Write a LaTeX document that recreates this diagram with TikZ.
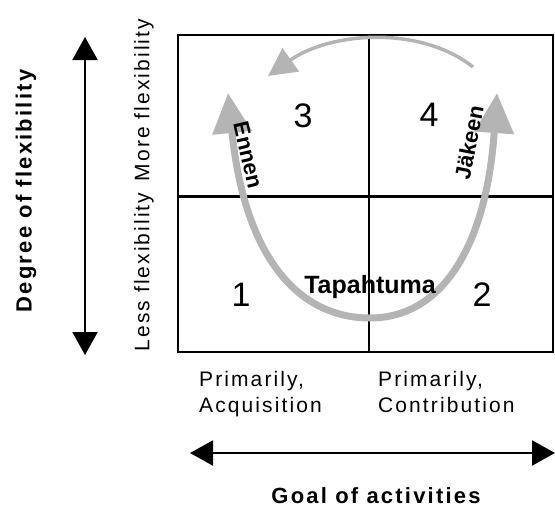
\documentclass[tikz,border=0pt]{standalone}
\usepackage{fontspec}
\setmainfont{Liberation Sans}
\usetikzlibrary{arrows.meta}
\definecolor{arrowgray}{RGB}{180,180,180}
\tikzset{
  lbl/.style={inner sep=0pt, font=\fontsize{21}{26}\selectfont\addfontfeatures{LetterSpace=10}},
  boldlbl/.style={inner sep=0pt, font=\bfseries\fontsize{22}{26}\selectfont\addfontfeatures{LetterSpace=10}},
  numlbl/.style={inner sep=0pt, anchor=base, font=\fontsize{34}{40}\selectfont},
  arclbl/.style={inner sep=0pt, font=\bfseries\fontsize{22}{24}\selectfont},
  axisarrow/.style={line width=2pt, {Triangle[length=23pt,width=25pt]}-{Triangle[length=23pt,width=25pt]}},
  bigarrow/.style={line width=7pt, draw=arrowgray, {Triangle[length=40pt,width=38pt]}-{Triangle[length=40pt,width=38pt]}},
  thinarrow/.style={line width=3.5pt, draw=arrowgray, -{Triangle[length=28pt,width=28pt]}},
}
\begin{document}
\begin{tikzpicture}[x=1pt,y=-1pt]
\useasboundingbox (0,0) rectangle (555,507);
% quadrant box
\coordinate (tl) at (178,35);
\coordinate (br) at (553,352);
\coordinate (mt) at (369,35);
\coordinate (mb) at (369,352);
\coordinate (ml) at (178,196);
\coordinate (mr) at (553,196);
\draw[line width=2pt] (tl) rectangle (br);
\draw[line width=1.5pt] (mt) -- (mb);
\draw[line width=3pt] (ml) -- (mr);
% quadrant numbers
\node[numlbl] (n1) at (241,306) {1};
\node[numlbl] (n2) at (482,306) {2};
\node[numlbl] (n3) at (303,127) {3};
\node[numlbl] (n4) at (429,126) {4};
% U-shaped arrow
\coordinate (ua) at (228,93);
\coordinate (ub) at (370,318);
\coordinate (uc) at (497,93);
\draw[bigarrow] (ua) .. controls (245,260) and (300,318) .. (ub) .. controls (440,318) and (486,250) .. (uc);
% top thin arrow
\coordinate (ta) at (473,67);
\coordinate (tb) at (268,76);
\draw[thinarrow] (ta) .. controls (420,25) and (330,32) .. (tb);
% labels on arrows
\node[arclbl, rotate=-77] (ennen) at (248,155) {Ennen};
\node[arclbl, rotate=79] (jakeen) at (469,142) {Jäkeen};
\node[inner sep=0pt, anchor=base, font=\bfseries\fontsize{25}{30}\selectfont] (tap) at (370,293) {Tapahtuma};
% vertical axis
\coordinate (va) at (85,37);
\coordinate (vb) at (85,355);
\draw[axisarrow] (va) -- (vb);
\node[boldlbl, rotate=90] (deg) at (26,191) {Degree of flexibility};
\node[lbl, rotate=90] (more) at (144,100) {More flexibility};
\node[lbl, rotate=90] (less) at (144,272) {Less flexibility};
% horizontal axis
\node[lbl, anchor=north west, align=left] (acq) at (199,371) {Primarily,\\Acquisition};
\node[lbl, anchor=north west, align=left] (con) at (378,371) {Primarily,\\Contribution};
\coordinate (ha) at (190,453);
\coordinate (hb) at (555,453);
\draw[axisarrow] (ha) -- (hb);
\node[boldlbl, anchor=base] (goal) at (376,503) {Goal of activities};
\end{tikzpicture}
\end{document}
